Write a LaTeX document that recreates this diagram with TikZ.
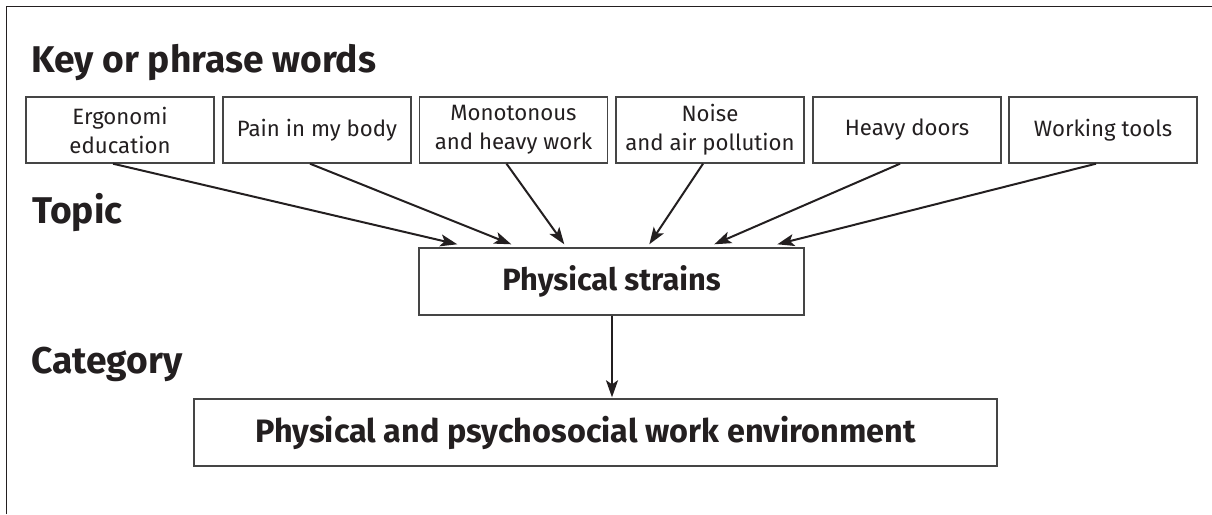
\documentclass[tikz,border=0pt]{standalone}
\usepackage{fontspec}
\setmainfont{Fira Sans}
\usetikzlibrary{arrows.meta,calc}
\definecolor{ink}{HTML}{231F20}
\definecolor{boxline}{HTML}{454545}
\begin{document}
\begin{tikzpicture}[x=1pt,y=-1pt,
  kw/.style={draw=boxline,line width=1.4pt,minimum width=188pt,minimum height=66pt,inner sep=0pt,align=center,text=ink,font=\fontsize{22.2}{29}\selectfont},
  bigbox/.style={draw=boxline,line width=1.4pt,minimum height=67pt,inner sep=0pt,text=ink},
  heading/.style={anchor=base west,inner sep=0pt,text=ink,font=\fontsize{37.2}{42}\selectfont\bfseries},
  conn/.style={draw=ink,line width=2pt,-{Stealth[length=17pt,width=12pt,inset=4pt]}}
]
\useasboundingbox (0,0) rectangle (1212,514);
\draw[ink,line width=1.4pt] (6.5,514) -- (6.5,6.5) -- (1212,6.5);

\node[heading] (h1) at (31,72) {Key or phrase words};
\node[heading] (h2) at (32,223) {Topic};
\node[heading] (h3) at (31,373) {Category};

\node[kw] (b1) at (120,130) {Ergonomi\\education};
\node[kw] (b2) at (317,130) {Pain in my body};
\node[kw] (b3) at (513.5,130) {Monotonous\\and heavy work};
\node[kw] (b4) at (710,130) {Noise\\and air pollution};
\node[kw] (b5) at (907,130) {Heavy doors};
\node[kw] (b6) at (1103,130) {Working tools};

\node[bigbox,minimum width=385pt,font=\fontsize{30.8}{36}\selectfont\bfseries] (ps) at (611.5,281.5) {Physical strains};
\node[bigbox,minimum width=803pt,font=\fontsize{32.4}{36}\selectfont\bfseries] (env) at (595.5,432.5) {Physical and psychosocial work environment\hspace*{20pt}};

\draw[conn] ([xshift=-7pt]b1.south) -- ([xshift=39pt,yshift=3pt]ps.north west);
\draw[conn] ([xshift=-7pt]b2.south) -- ([xshift=93pt,yshift=3pt]ps.north west);
\draw[conn] ([xshift=-7pt]b3.south) -- ([xshift=146pt,yshift=3pt]ps.north west);
\draw[conn] ([xshift=-7pt]b4.south) -- ([xshift=231pt,yshift=3pt]ps.north west);
\draw[conn] ([xshift=-7pt]b5.south) -- ([xshift=296pt,yshift=3pt]ps.north west);
\draw[conn] ([xshift=-7pt]b6.south) -- ([xshift=359pt,yshift=3pt]ps.north west);
\draw[conn] ([xshift=0.5pt]ps.south) -- ([xshift=16.5pt,yshift=1pt]env.north);
\end{tikzpicture}
\end{document}
